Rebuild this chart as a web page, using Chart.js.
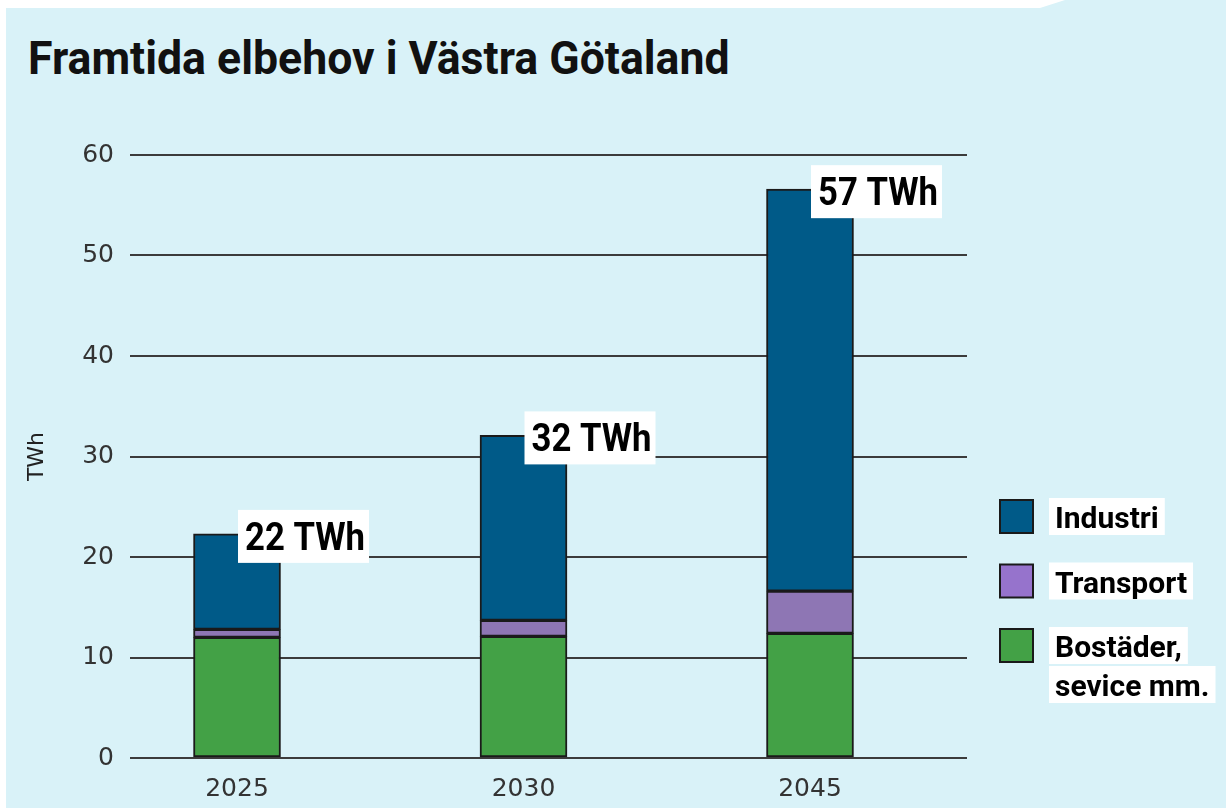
<!DOCTYPE html>
<html lang="sv">
<head>
<meta charset="utf-8">
<title>Framtida elbehov i Västra Götaland</title>
<script src="https://cdn.jsdelivr.net/npm/chart.js@4.4.1/dist/chart.umd.min.js"></script>
<style>
  html, body { margin: 0; padding: 0; background: #fff; }
  body { width: 1226px; height: 808px; position: relative; overflow: hidden; }
  .panel {
    position: absolute; left: 0; top: 0; width: 1226px; height: 808px;
    background: #d9f2f8;
    clip-path: polygon(6px 8px, 1040px 8px, 1065px 0, 1226px 0, 1226px 808px, 6px 808px);
  }
  h1 {
    position: absolute; left: 28px; top: 35px; margin: 0;
    font: bold 46px/46px Roboto, sans-serif; color: #111;
    transform: scaleX(0.97); transform-origin: 0 0; white-space: nowrap;
  }
  .wrap { position: absolute; left: 0; top: 0; width: 1226px; height: 808px; }
</style>
</head>
<body>
<div class="panel"></div>
<h1>Framtida elbehov i Västra Götaland</h1>
<div class="wrap"><canvas id="chart"></canvas></div>
<script>
// --- data (TWh) ---
const years = ['2025', '2030', '2045'];
const bostader = [12.0, 12.1, 12.4];
const transport = [0.8, 1.6, 4.2];
const industri = [9.5, 18.4, 40.0];
const totalLabels = ['22 TWh', '32 TWh', '57 TWh'];
const yTicks = [0, 10, 20, 30, 40, 50, 60];

const toPoints = arr => arr.map((v, i) => ({ x: i, y: v }));

// labels next to the top of each stack
const totalsPlugin = {
    id: 'totals',
    afterDatasetsDraw(chart) {
        const { ctx, scales: { x, y } } = chart;
        ctx.save();
        years.forEach((_, i) => {
            const top = y.getPixelForValue(bostader[i] + transport[i] + industri[i]);
            const left = x.getPixelForValue(i) + 1;
            ctx.fillStyle = '#fff';
            ctx.fillRect(left, top - 24, 131, 53);
            ctx.save();
            ctx.translate(left + 7, top + 16);
            ctx.scale(0.89, 1);
            ctx.font = 'bold 39px Roboto';
            ctx.fillStyle = '#000';
            ctx.textBaseline = 'alphabetic';
            ctx.fillText(totalLabels[i], 0, 0);
            ctx.restore();
        });
        ctx.restore();
    }
};

// legend on the right, top item = top of stack
const legendPlugin = {
    id: 'sideLegend',
    afterDraw(chart) {
        const { ctx } = chart;
        const items = chart.data.datasets.slice().reverse();
        ctx.save();
        ctx.font = 'bold 30px Roboto';
        ctx.textBaseline = 'alphabetic';
        items.forEach((ds, k) => {
            const top = 499 + k * 64.5;
            ctx.fillStyle = ds.legendColor;
            ctx.fillRect(1000, top + 1, 33, 33);
            ctx.strokeStyle = '#1a1a1a';
            ctx.lineWidth = 2;
            ctx.strokeRect(1000, top + 1, 33, 33);
            const lines = ds.legendText;
            lines.forEach((line, j) => {
                const ly = top + j * 39;
                const w = ctx.measureText(line).width;
                ctx.fillStyle = '#fff';
                ctx.fillRect(1049, ly - 1, w + 12, 37);
                ctx.fillStyle = '#000';
                ctx.fillText(line, 1055, ly + 29);
            });
        });
        ctx.restore();
    }
};

const ctx = document.getElementById('chart').getContext('2d');

new Chart(ctx, {
    type: 'bar',
    data: {
        datasets: [
            {
                label: 'Bostäder, sevice mm.',
                legendText: ['Bostäder,', 'sevice mm.'],
                data: toPoints(bostader),
                backgroundColor: '#43a146',
                legendColor: '#43a146'
            },
            {
                label: 'Transport',
                legendText: ['Transport'],
                data: toPoints(transport),
                backgroundColor: '#8e76b4',
                legendColor: '#9673cc'
            },
            {
                label: 'Industri',
                legendText: ['Industri'],
                data: toPoints(industri),
                backgroundColor: '#005a88',
                legendColor: '#005a88'
            }
        ]
    },
    options: {
        responsive: true,
        maintainAspectRatio: false,
        animation: false,
        layout: { padding: { top: 155, left: 0, right: 259, bottom: 0 } },
        datasets: {
            bar: {
                barThickness: 87,
                borderColor: '#1a1a1a',
                borderWidth: 2,
                borderSkipped: false
            }
        },
        plugins: {
            legend: { display: false },
            tooltip: { enabled: false }
        },
        scales: {
            x: {
                type: 'linear',
                stacked: true,
                offset: false,
                min: -0.3735,
                max: 2.548,
                afterBuildTicks: s => { s.ticks = years.map((_, i) => ({ value: i })); },
                afterFit: s => { s.height = 50; },
                grid: { display: false },
                border: { display: false },
                ticks: {
                    callback: v => years[v],
                    color: '#333',
                    font: { family: 'DejaVu Sans', size: 25 },
                    padding: 8
                }
            },
            y: {
                stacked: true,
                min: 0,
                max: 60,
                afterBuildTicks: s => { s.ticks = yTicks.map(v => ({ value: v })); },
                afterFit: s => { s.width = 130; },
                grid: { color: '#3c3c3c', lineWidth: 2, drawTicks: false },
                border: { display: false },
                ticks: {
                    color: '#333',
                    font: { family: 'DejaVu Sans', size: 25 },
                    padding: 16
                },
                title: {
                    display: true,
                    text: 'TWh',
                    color: '#222',
                    font: { family: 'DejaVu Sans', size: 22 },
                    padding: { top: 24, bottom: 0 }
                }
            }
        }
    },
    plugins: [totalsPlugin, legendPlugin]
});
</script>
</body>
</html>
